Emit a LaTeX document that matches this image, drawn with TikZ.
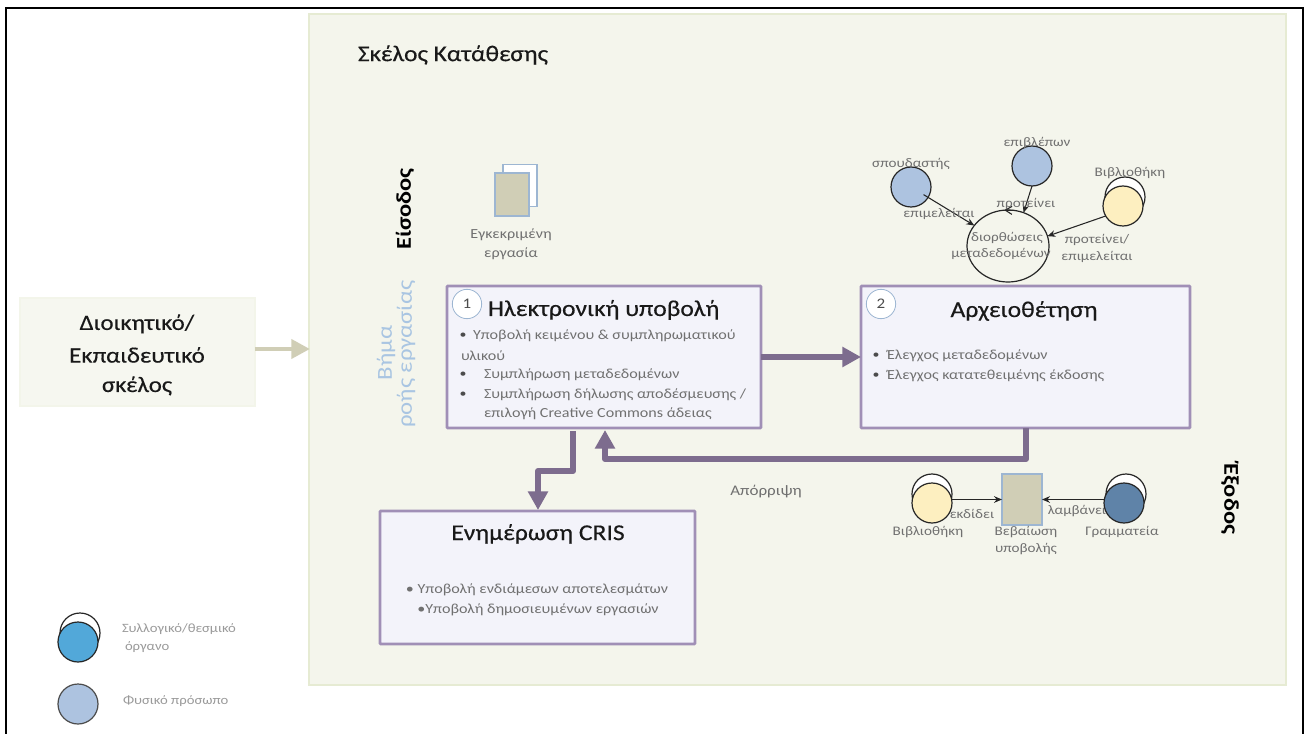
\documentclass[tikz,border=0pt]{standalone}
\usepackage{fontspec}
\setmainfont[FakeStretch=1.16]{Carlito}
\newfontfamily\headfont[FakeStretch=1.13,FakeBold=0.35]{Carlito}
\usetikzlibrary{arrows.meta,calc,shapes.geometric}
\definecolor{panelfill}{HTML}{F4F5EC}
\definecolor{panelline}{HTML}{E6EBD3}
\definecolor{admfill}{HTML}{F6F7F0}
\definecolor{stone}{HTML}{D0CEB6}
\definecolor{boxfill}{HTML}{F3F3FA}
\definecolor{boxline}{HTML}{A08FB6}
\definecolor{flow}{HTML}{7D6C8E}
\definecolor{txt}{HTML}{707070}
\definecolor{lighttxt}{HTML}{9A9A9A}
\definecolor{stepblue}{HTML}{A9C5E2}
\definecolor{person}{HTML}{ADC3E0}
\definecolor{yellowc}{HTML}{FDEFC0}
\definecolor{darkc}{HTML}{5F83A8}
\definecolor{legendc}{HTML}{52A8D9}
\definecolor{docline}{HTML}{9DB6D2}
\tikzset{
  every node/.style={inner sep=0pt,outer sep=0pt},
  flowbox/.style={draw=boxline,fill=boxfill,line width=2.1pt,minimum width=235.5pt,minimum height=106.5pt,rounded corners=0.6pt},
  body/.style={text=txt,font=\fontsize{10.4}{12}\selectfont,anchor=west,yshift=-1pt},
  bodyc/.style={text=txt,font=\fontsize{10.4}{12}\selectfont,anchor=center,yshift=-1pt},
  small/.style={text=txt,font=\fontsize{9.8}{12}\selectfont,anchor=center,yshift=-1pt},
  legendtext/.style={text=lighttxt,font=\fontsize{9.5}{12}\selectfont,anchor=west},
  bullet/.style={text=black!70,font=\fontsize{9}{12}\selectfont,anchor=center,yshift=-1pt},
  titletext/.style={text=black!90,font=\headfont\fontsize{17}{20}\selectfont,anchor=center,yshift=-0.7pt},
  flowarrow/.style={draw=flow,line width=4.5pt,line join=round,-{Triangle[length=14pt,width=14.5pt]}},
  thinarrow/.style={draw=black!85,line width=0.8pt,-{Stealth[length=6pt,width=5pt]}},
  personc/.style={circle,draw=black!85,line width=0.9pt,minimum size=30pt},
  ghost/.style={circle,draw=black!85,fill=white,line width=0.9pt,minimum size=30pt},
  numc/.style={circle,draw=docline,fill=white,line width=0.6pt,minimum size=22pt,text=black!70,font=\fontsize{11}{12}\selectfont},
}
\begin{document}
\begin{tikzpicture}[x=0.75pt,y=-0.75pt]
\useasboundingbox (0,0) rectangle (1306,734);
\fill[white] (0,0) rectangle (1306,734);
\coordinate (fa) at (6,734); \coordinate (fb) at (6,8); \coordinate (fc) at (1303,8); \coordinate (fd) at (1303,734);
\draw[black,line width=1.6pt] (fa) -- (fb) -- (fc) -- (fd);
% panel
\node[draw=panelline,fill=panelfill,line width=2pt,minimum width=732.75pt,minimum height=503.25pt] (panel) at (797.5,349.5) {};
\node[text=black!90,font=\headfont\fontsize{16.9}{20}\selectfont,anchor=west] (ttl) at (358,55) {Σκέλος Κατάθεσης};
% left box
\node[draw=admfill!80!panelline,fill=admfill,line width=1.5pt,minimum width=176pt,minimum height=81pt] (adm) at (137.5,352) {};
\node[titletext,font=\headfont\fontsize{16.5}{20}\selectfont] (adm1) at (137,323) {Διοικητικό/};
\node[titletext,font=\headfont\fontsize{16.5}{20}\selectfont] (adm2) at (137,354) {Εκπαιδευτικό};
\node[titletext,font=\headfont\fontsize{16.5}{20}\selectfont] (adm3) at (137,385) {σκέλος};
\coordinate (ay) at (310,349);
\draw[draw=stone,line width=3.6pt,-{Triangle[length=14pt,width=14pt]}] (adm.east |- ay) -- (ay);
% rotated labels
\node[rotate=90,text=black,font=\bfseries\fontsize{15.8}{18}\selectfont] (ein) at (405,209) {Είσοδος};
\node[rotate=90,text=stepblue,font=\fontsize{16}{18}\selectfont] (st1) at (386,353) {Βήμα};
\node[rotate=90,text=stepblue,font=\fontsize{16}{18}\selectfont] (st2) at (406,354) {ροής εργασίας};
\node[rotate=-90,text=black,font=\bfseries\fontsize{15.8}{18}\selectfont] (exo) at (1230,499) {Έξοδος};
% input doc
\node[draw=docline,fill=white,line width=0.9pt,minimum width=25.5pt,minimum height=32pt] (dback) at (520,185.5) {};
\node[draw=docline,fill=stone,line width=1.2pt,minimum width=25.5pt,minimum height=32.5pt] (dfront) at (512,194.5) {};
\node[bodyc] (in1) at (511,233) {Εγκεκριμένη};
\node[bodyc] (in2) at (511,252) {εργασία};
% boxes
\node[flowbox] (box1) at (604,357) {};
\node[flowbox,minimum width=246.75pt] (box2) at (1025.5,357) {};
\node[flowbox,minimum width=236.25pt,minimum height=99.75pt] (box3) at (537.5,577.5) {};
\node[numc] (n1) at (467,304) {1};
\node[numc] (n2) at (881,304) {2};
\node[titletext,anchor=west] (t1) at (488,309) {Ηλεκτρονική υποβολή};
\node[titletext] (t2) at (1024,310) {Αρχειοθέτηση};
\node[titletext] (t3) at (538,533) {Ενημέρωση CRIS};
% box 1 text
\node[bullet] (b11) at (463,334) {•};
\node[body] (l11) at (473,334) {Υποβολή κειμένου \& συμπληρωματικού};
\node[body] (l12) at (461,354) {υλικού};
\node[bullet] (b12) at (463,373) {•};
\node[body] (l13) at (484,373) {Συμπλήρωση μεταδεδομένων};
\node[bullet] (b13) at (463,393) {•};
\node[body] (l14) at (484,393) {Συμπλήρωση δήλωσης αποδέσμευσης /};
\node[body] (l15) at (484,412) {επιλογή Creative Commons άδειας};
% box 2 text
\node[bullet] (b21) at (876,354) {•};
\node[body] (l21) at (887,354) {Έλεγχος μεταδεδομένων};
\node[bullet] (b22) at (876,374) {•};
\node[body] (l22) at (887,374) {Έλεγχος κατατεθειμένης έκδοσης};
% box 3 text
\node[bodyc] (l31) at (537,588) {• Υποβολή ενδιάμεσων αποτελεσμάτων};
\node[bodyc] (l32) at (538,608) {•Υποβολή δημοσιευμένων εργασιών};
% flow arrows
\draw[flowarrow] (box1) -- (box2);
\coordinate (r1) at (1026,428); \coordinate (rm) at (605,459); \coordinate (r3) at (605,430);
\draw[flowarrow] (r1) |- (rm) -- (r3);
\coordinate (c1) at (573,431); \coordinate (c2) at (538,471); \coordinate (c3) at (538,510);
\draw[flowarrow] (c1) |- (c2) -- (c3);
\node[bodyc,font=\fontsize{11}{12}\selectfont] (rej) at (766,490) {Απόρριψη};
% top group
\node[ellipse,draw=black!85,line width=0.9pt,minimum width=61.5pt,minimum height=54pt] (ring) at (1008,246) {};
\node[personc,fill=person] (spoud) at (911,187) {};
\node[personc,fill=person] (epi) at (1032,166) {};
\node[ghost] (libAg) at (1125,197) {};
\node[personc,fill=yellowc] (libA) at (1123,206) {};
\draw[thinarrow,shorten <=11pt] (spoud.center) -- (ring);
\draw[thinarrow] (epi.south) -- (ring.65);
\draw[thinarrow] (libA.210) -- (ring.14);
\draw[draw=black!85,line width=0.8pt,-{Straight Barb[length=5pt,width=6pt]}] (ring.80) -- (ring.96);
\node[small] (tsp) at (911,163) {σπουδαστής};
\node[small] (tep) at (1037,142) {επιβλέπων};
\node[small] (tlb) at (1130,172) {Βιβλιοθήκη};
\node[small] (tem) at (939,213) {επιμελείται};
\node[small] (tpr) at (1026,203) {προτείνει};
\node[small] (tdi) at (1007,237) {διορθώσεις};
\node[small] (tme) at (1001,253) {μεταδεδομένων};
\node[small] (tp2) at (1097,239) {προτείνει/};
\node[small] (te2) at (1097,256) {επιμελείται};
% bottom group
\node[ghost] (libBg) at (932,494) {};
\node[personc,fill=yellowc] (libB) at (932,503) {};
\node[draw=docline,fill=stone,line width=1.2pt,minimum width=30pt,minimum height=38pt] (cert) at (1022,499.5) {};
\node[ghost] (gramg) at (1126,494) {};
\node[personc,fill=darkc] (gram) at (1124,503) {};
\draw[thinarrow] (libB.east |- cert.west) -- (cert.west);
\draw[thinarrow] (gram.west |- cert.east) -- (cert.east);
\node[small] (tlb2) at (928,531) {Βιβλιοθήκη};
\node[small] (tek) at (972,513) {εκδίδει};
\node[small] (tla) at (1077,510) {λαμβάνει};
\node[small] (tbe) at (1026,531) {Βεβαίωση};
\node[small] (typ) at (1026,548) {υποβολής};
\node[small] (tgr) at (1122,531) {Γραμματεία};
% legend
\node[ghost] (legAg) at (80,633) {};
\node[personc,fill=legendc] (legA) at (78,642) {};
\node[personc,fill=person,draw=black!70] (legB) at (78,704) {};
\node[legendtext] (lg1) at (122,629) {Συλλογικό/θεσμικό};
\node[legendtext] (lg2) at (125,647) {όργανο};
\node[legendtext] (lg3) at (123,701) {Φυσικό πρόσωπο};
\end{tikzpicture}
\end{document}
